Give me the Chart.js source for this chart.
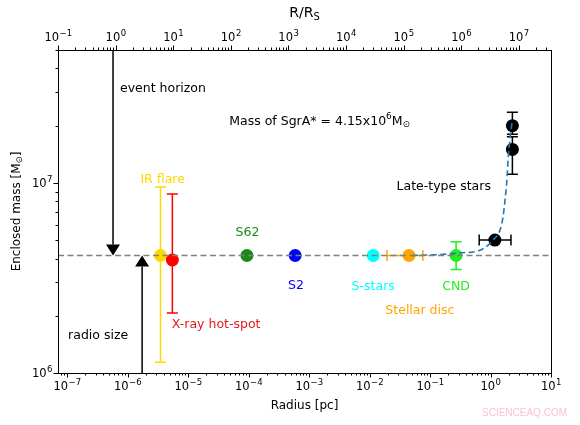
<!DOCTYPE html>
<html>
<head>
<meta charset="utf-8">
<script src="https://cdn.jsdelivr.net/npm/chart.js@4.4.1/dist/chart.umd.min.js"></script>
<style>
  html, body { margin: 0; padding: 0; background: #fff; }
  canvas { display: block; }
</style>
</head>
<body>
<canvas id="mass-chart" width="580" height="425" style="width:580px;height:425px"></canvas>
<script>
// measurements (radius in pc, enclosed mass in solar masses)
const categories = ['IR flare', 'X-ray hot-spot', 'S62', 'S2', 'S-stars', 'Stellar disc', 'CND']
const colors = ['#ffd700', '#ff0000', '#1a8a1a', '#0000ff', '#00ffff', '#ffa500', '#22ee22']
const radiusPc = [3.5e-6, 5.5e-6, 9.4e-5, 5.9e-4, 0.0115, 0.045, 0.27]
const massMsun = [4.15e6, 3.93e6, 4.15e6, 4.15e6, 4.15e6, 4.15e6, 4.15e6]
const massLow = [1.14e6, 2.07e6, null, null, null, null, 3.5e6]
const massHigh = [9.5e6, 8.75e6, null, null, null, null, 4.9e6]
const radiusLow = [null, null, null, null, null, 0.0195, null]
const radiusHigh = [null, null, null, null, null, 0.076, null]

const lateRadius = [1.18, 2.3, 2.3]
const lateMass = [5.0e6, 2.0e7, 1.5e7]
const lateRadiusLow = [0.65, null, null]
const lateRadiusHigh = [2.18, null, null]
const lateMassLow = [null, 1.8e7, 1.11e7]
const lateMassHigh = [null, 2.35e7, 1.75e7]

// model curve (BH + stellar cluster)
const modelRadius = [0.05, 0.146, 0.31, 0.67, 0.875, 1.1, 1.44, 1.61, 1.74, 1.87, 1.95, 2.09, 2.27]
const modelMass = [4.15e6, 4.2e6, 4.28e6, 4.42e6, 4.65e6, 5.0e6, 5.66e6, 6.62e6, 8.14e6, 1.04e7, 1.32e7, 1.68e7, 2.09e7]

const sgrMass = 4.15e6
const xRange = [7.08e-8, 10]
const xTopRange = [0.1, 3.63e7]
const yRange = [1e6, 5e7]

const eventHorizonPc = 5.75e-7
const radioSizePc = 1.74e-6

// text labels: [text, x (pc), y (Msun), colour, align]
const notes = [
  ['event horizon', 7.5e-7, 3.13e7, '#000', 'left'],
  ['radio size', 1.04e-7, 1.57e6, '#000', 'left'],
  ['Late-type stars', 0.028, 9.5e6, '#000', 'left'],
  ['IR flare', 3.8e-6, 1.04e7, colors[0], 'center'],
  ['X-ray hot-spot', 5.4e-6, 1.79e6, '#e41a1c', 'left'],
  ['S62', 9.6e-5, 5.45e6, colors[2], 'center'],
  ['S2', 6.1e-4, 2.87e6, colors[3], 'center'],
  ['S-stars', 0.0115, 2.83e6, colors[4], 'center'],
  ['Stellar disc', 0.068, 2.12e6, colors[5], 'center'],
  ['CND', 0.27, 2.83e6, colors[6], 'center'],
]

const FONT = "'DejaVu Sans', sans-serif"
const NOTE_FONT = '12.5px ' + FONT

const decades = (scale) => {
  scale.ticks = []
  for (let e = Math.ceil(Math.log10(scale.min) - 1e-9); e <= Math.floor(Math.log10(scale.max) + 1e-9); e++) {
    scale.ticks.push({ value: Math.pow(10, e) })
  }
}

// draw "10^n" like matplotlib mathtext
const drawPow = (ctx, v, x, y, align) => {
  const e = String(Math.round(Math.log10(v))).replace('-', '−')
  ctx.font = '11.5px ' + FONT
  const wb = ctx.measureText('10').width
  ctx.font = '8.5px ' + FONT
  const we = ctx.measureText(e).width
  const total = wb + we
  const x0 = align === 'right' ? x - total : x - total / 2
  ctx.textAlign = 'left'
  ctx.textBaseline = 'middle'
  ctx.font = '11.5px ' + FONT
  ctx.fillText('10', x0, y + 1)
  ctx.font = '8.5px ' + FONT
  ctx.fillText(e, x0 + wb + 0.5, y - 3.5)
}

const drawTicks = (ctx, scale, side) => {
  const lo = Math.floor(Math.log10(scale.min))
  const hi = Math.ceil(Math.log10(scale.max))
  ctx.strokeStyle = '#000'
  ctx.lineWidth = 1
  for (let e = lo; e <= hi; e++) {
    for (let m = 1; m < 10; m++) {
      const v = m * Math.pow(10, e)
      if (v < scale.min * 0.999 || v > scale.max * 1.001) continue
      const len = m === 1 ? 4.5 : 2.5
      const p = Math.round(scale.getPixelForValue(v)) + 0.5
      ctx.beginPath()
      if (side === 'bottom') { ctx.moveTo(p, scale.top); ctx.lineTo(p, scale.top + len) }
      if (side === 'top') { ctx.moveTo(p, scale.bottom); ctx.lineTo(p, scale.bottom - len) }
      if (side === 'left') { ctx.moveTo(scale.right, p); ctx.lineTo(scale.right - len, p) }
      ctx.stroke()
    }
  }
  ctx.fillStyle = '#000'
  scale.ticks.forEach((t) => {
    const p = scale.getPixelForValue(t.value)
    if (side === 'bottom') drawPow(ctx, t.value, p, scale.top + 13, 'center')
    if (side === 'top') drawPow(ctx, t.value, p, scale.bottom - 13, 'center')
    if (side === 'left') drawPow(ctx, t.value, scale.right - 6, p, 'right')
  })
}

const errorBars = {
  id: 'errorBars',
  beforeDatasetsDraw(chart) {
    const { ctx, scales: { x, y } } = chart
    const cap = 5.5
    const draw = (xs, ys, xl, xh, yl, yh, col) => {
      xs.forEach((r, i) => {
        const px = x.getPixelForValue(r)
        const py = y.getPixelForValue(ys[i])
        ctx.strokeStyle = typeof col === 'string' ? col : col[i]
        ctx.lineWidth = 1.5
        if (yl[i] != null) {
          const a = y.getPixelForValue(yl[i])
          const b = y.getPixelForValue(yh[i])
          ctx.beginPath()
          ctx.moveTo(px, a); ctx.lineTo(px, b)
          ctx.moveTo(px - cap, a); ctx.lineTo(px + cap, a)
          ctx.moveTo(px - cap, b); ctx.lineTo(px + cap, b)
          ctx.stroke()
        }
        if (xl[i] != null) {
          const a = x.getPixelForValue(xl[i])
          const b = x.getPixelForValue(xh[i])
          ctx.beginPath()
          ctx.moveTo(a, py); ctx.lineTo(b, py)
          ctx.moveTo(a, py - cap); ctx.lineTo(a, py + cap)
          ctx.moveTo(b, py - cap); ctx.lineTo(b, py + cap)
          ctx.stroke()
        }
      })
    }
    ctx.save()
    draw(radiusPc, massMsun, radiusLow, radiusHigh, massLow, massHigh, colors)
    draw(lateRadius, lateMass, lateRadiusLow, lateRadiusHigh, lateMassLow, lateMassHigh, '#000')

    // arrows for event horizon and radio size
    const arrow = (r, fromTop) => {
      const px = x.getPixelForValue(r)
      const tip = y.getPixelForValue(sgrMass)
      const dir = fromTop ? -1 : 1
      const base = tip + dir * 11
      ctx.strokeStyle = '#000'
      ctx.fillStyle = '#000'
      ctx.lineWidth = 1.5
      ctx.beginPath()
      ctx.moveTo(px, fromTop ? chart.chartArea.top : chart.chartArea.bottom)
      ctx.lineTo(px, base)
      ctx.stroke()
      ctx.beginPath()
      ctx.moveTo(px, tip)
      ctx.lineTo(px - 7, base)
      ctx.lineTo(px + 7, base)
      ctx.closePath()
      ctx.fill()
    }
    arrow(eventHorizonPc, true)
    arrow(radioSizePc, false)
    ctx.restore()
  },
  afterDraw(chart) {
    const { ctx, chartArea: ca, scales: { x, x2, y } } = chart
    ctx.save()
    ctx.strokeStyle = '#000'
    ctx.lineWidth = 1
    ctx.strokeRect(Math.round(ca.left) + 0.5, Math.round(ca.top) + 0.5, Math.round(ca.right - ca.left), Math.round(ca.bottom - ca.top))
    drawTicks(ctx, x, 'bottom')
    drawTicks(ctx, x2, 'top')
    drawTicks(ctx, y, 'left')

    ctx.textBaseline = 'middle'
    ctx.font = NOTE_FONT
    notes.forEach(([t, r, m, col, align]) => {
      ctx.fillStyle = col
      ctx.textAlign = align
      ctx.fillText(t, x.getPixelForValue(r), y.getPixelForValue(m))
    })

    // Mass of SgrA* with superscript and sun symbol
    ctx.fillStyle = '#000'
    ctx.textAlign = 'left'
    let tx = x.getPixelForValue(4.8e-5)
    const ty = y.getPixelForValue(2.1e7)
    const part1 = 'Mass of SgrA* = 4.15x10'
    ctx.fillText(part1, tx, ty)
    tx += ctx.measureText(part1).width
    ctx.font = '9px ' + FONT
    ctx.fillText('6', tx, ty - 5)
    tx += ctx.measureText('6').width
    ctx.font = NOTE_FONT
    ctx.fillText('M', tx, ty)
    tx += ctx.measureText('M').width
    ctx.font = '9px ' + FONT
    ctx.fillText('⊙', tx, ty + 3)

    // axis titles
    const cx = (ca.left + ca.right) / 2
    ctx.textAlign = 'center'
    ctx.font = '12px ' + FONT
    ctx.fillText('Radius [pc]', cx, ca.bottom + 33)

    ctx.font = '14px ' + FONT
    const rr = 'R/R'
    const w1 = ctx.measureText(rr).width
    ctx.font = '10px ' + FONT
    const w2 = ctx.measureText('S').width
    const sx = cx - (w1 + w2) / 2
    ctx.textAlign = 'left'
    ctx.font = '14px ' + FONT
    ctx.fillText(rr, sx, ca.top - 37)
    ctx.font = '10px ' + FONT
    ctx.fillText('S', sx + w1, ca.top - 33)

    ctx.translate(ca.left - 41, (ca.top + ca.bottom) / 2)
    ctx.rotate(-Math.PI / 2)
    ctx.font = '12px ' + FONT
    const t1 = 'Enclosed mass [M'
    const a = ctx.measureText(t1).width
    ctx.font = '8.5px ' + FONT
    const b = ctx.measureText('⊙').width
    ctx.font = '12px ' + FONT
    const c = ctx.measureText(']').width
    const yx = -(a + b + c) / 2
    ctx.fillText(t1, yx, 0)
    ctx.font = '8.5px ' + FONT
    ctx.fillText('⊙', yx + a, 3)
    ctx.font = '12px ' + FONT
    ctx.fillText(']', yx + a + b, 0)
    ctx.restore()

    ctx.save()
    ctx.font = '10px Liberation Sans, sans-serif'
    ctx.fillStyle = '#f6c4cc'
    ctx.textAlign = 'right'
    ctx.textBaseline = 'middle'
    ctx.fillText('SCIENCEAQ.COM', 567, 413)
    ctx.restore()
  },
}

const hiddenTicks = { display: false }

const data = {
  datasets: [
    {
      label: 'SgrA* mass',
      data: xRange.map((r) => ({ x: r, y: sgrMass })),
      showLine: true,
      borderColor: '#808080',
      borderWidth: 1.6,
      borderDash: [6, 3.5],
      pointRadius: 0,
      order: 0,
    },
    {
      label: 'model',
      data: modelRadius.map((r, i) => ({ x: r, y: modelMass[i] })),
      showLine: true,
      borderColor: '#1f77b4',
      borderWidth: 1.6,
      borderDash: [6, 3.5],
      pointRadius: 0,
      cubicInterpolationMode: 'monotone',
      order: 0,
    },
    {
      label: 'measurements',
      data: radiusPc.map((r, i) => ({ x: r, y: massMsun[i] })),
      pointRadius: 6.5,
      pointBorderWidth: 0,
      backgroundColor: colors,
      borderColor: colors,
      order: 1,
    },
    {
      label: 'late-type stars',
      data: lateRadius.map((r, i) => ({ x: r, y: lateMass[i] })),
      pointRadius: 6.5,
      pointBorderWidth: 0,
      backgroundColor: '#000',
      borderColor: '#000',
      order: 1,
    },
  ],
}

const config = {
  type: 'scatter',
  data,
  plugins: [errorBars],
  options: {
    responsive: false,
    animation: false,
    events: [],
    layout: { padding: { left: 0, right: 29, top: 0, bottom: 0 } },
    plugins: { legend: { display: false }, tooltip: { enabled: false } },
    scales: {
      x: {
        type: 'logarithmic',
        position: 'bottom',
        min: xRange[0],
        max: xRange[1],
        afterBuildTicks: decades,
        afterFit: (s) => { s.height = 52 },
        grid: { display: false },
        border: { display: false },
        ticks: hiddenTicks,
      },
      x2: {
        type: 'logarithmic',
        position: 'top',
        min: xTopRange[0],
        max: xTopRange[1],
        afterBuildTicks: decades,
        afterFit: (s) => { s.height = 50 },
        grid: { display: false },
        border: { display: false },
        ticks: hiddenTicks,
      },
      y: {
        type: 'logarithmic',
        min: yRange[0],
        max: yRange[1],
        afterBuildTicks: decades,
        afterFit: (s) => { s.width = 58 },
        grid: { display: false },
        border: { display: false },
        ticks: hiddenTicks,
      },
    },
  },
}

new Chart(document.getElementById('mass-chart'), config)
</script>
</body>
</html>
